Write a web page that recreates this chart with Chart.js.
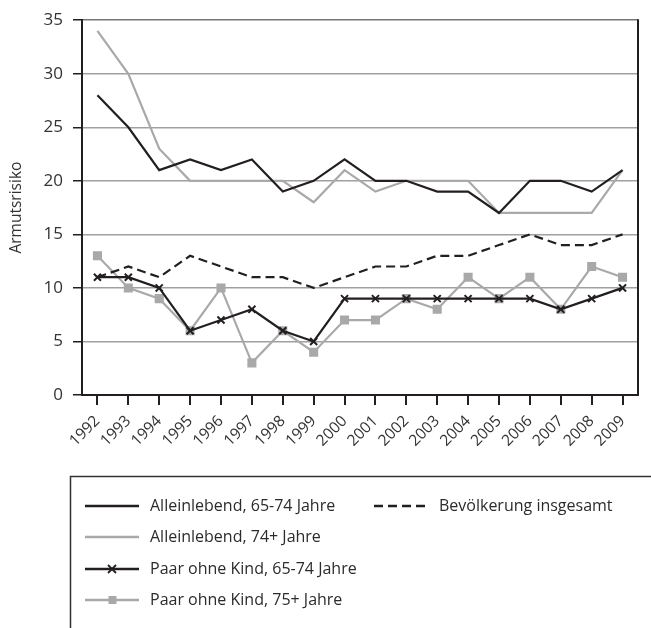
<!DOCTYPE html>
<html>
<head>
<meta charset="utf-8">
<script src="https://cdn.jsdelivr.net/npm/chart.js@4.4.0/dist/chart.umd.min.js"></script>
<style>
  html, body { margin: 0; padding: 0; background: #fff; }
  #wrap { width: 651px; height: 628px; position: relative; }
</style>
</head>
<body>
<div id="wrap"><canvas id="armut"></canvas></div>
<script>
// Jahre
const years = ['1992', '1993', '1994', '1995', '1996', '1997', '1998', '1999', '2000',
    '2001', '2002', '2003', '2004', '2005', '2006', '2007', '2008', '2009'];

// Armutsrisiko (%) je Gruppe
const allein6574 = [28, 25, 21, 22, 21, 22, 19, 20, 22, 20, 20, 19, 19, 17, 20, 20, 19, 21];
const allein74plus = [34, 30, 23, 20, 20, 20, 20, 18, 21, 19, 20, 20, 20, 17, 17, 17, 17, 21];
const paar6574 = [11, 11, 10, 6, 7, 8, 6, 5, 9, 9, 9, 9, 9, 9, 9, 8, 9, 10];
const paar75plus = [13, 10, 9, 6, 10, 3, 6, 4, 7, 7, 9, 8, 11, 9, 11, 8, 12, 11];
const bevoelkerung = [11, 12, 11, 13, 12, 11, 11, 10, 11, 12, 12, 13, 13, 14, 15, 14, 14, 15];

const yTicks = { min: 0, max: 35, step: 5 };

const BLACK = '#231f20';
const GREY = '#a9a9a9';
const FONT = '"Open Sans", "DejaVu Sans", sans-serif';

const series = {
    a1: { label: 'Alleinlebend, 65-74 Jahre', data: allein6574, color: BLACK, dash: [], point: false },
    a2: { label: 'Alleinlebend, 74+ Jahre', data: allein74plus, color: GREY, dash: [], point: false },
    p1: { label: 'Paar ohne Kind, 65-74 Jahre', data: paar6574, color: BLACK, dash: [], point: 'crossRot' },
    p2: { label: 'Paar ohne Kind, 75+ Jahre', data: paar75plus, color: GREY, dash: [], point: 'rect' },
    bv: { label: 'Bevölkerung insgesamt', data: bevoelkerung, color: BLACK, dash: [9, 5], point: false }
};

const makeDataset = (s) => ({
    label: s.label,
    data: s.data,
    borderColor: s.color,
    backgroundColor: s.color,
    borderWidth: 2.2,
    borderDash: s.dash,
    tension: 0,
    fill: false,
    pointStyle: s.point || 'circle',
    pointRadius: s.point ? 5 : 0,
    pointBorderWidth: 2,
    pointBorderColor: s.color,
    pointBackgroundColor: s.color
});

// custom legend box below the chart + right frame line
const frameAndLegend = {
    id: 'frameAndLegend',
    afterDraw(chart) {
        const ctx = chart.ctx;
        const area = chart.chartArea;
        ctx.save();

        // right border of plot
        ctx.strokeStyle = BLACK;
        ctx.lineWidth = 2;
        ctx.beginPath();
        ctx.moveTo(area.right, area.top - 1);
        ctx.lineTo(area.right, area.bottom);
        ctx.stroke();

        // legend frame (runs off the right and bottom edges)
        ctx.strokeStyle = '#333';
        ctx.lineWidth = 1.5;
        ctx.strokeRect(70.5, 476.5, 700, 300);

        const rows = [
            { s: series.a1, x: 85, y: 506 },
            { s: series.a2, x: 85, y: 537 },
            { s: series.p1, x: 85, y: 569 },
            { s: series.p2, x: 85, y: 600 },
            { s: series.bv, x: 374, y: 506 }
        ];
        ctx.font = '16px ' + FONT;
        ctx.textBaseline = 'middle';
        rows.forEach(({ s, x, y }) => {
            ctx.strokeStyle = s.color;
            ctx.lineWidth = 2.5;
            ctx.setLineDash(s.dash);
            ctx.beginPath();
            ctx.moveTo(x, y);
            ctx.lineTo(x + 54, y);
            ctx.stroke();
            ctx.setLineDash([]);
            if (s.point) {
                ctx.fillStyle = s.color;
                if (s.point === 'rect') {
                    ctx.fillRect(x + 23.5, y - 4, 8, 8);
                } else {
                    ctx.lineWidth = 1.8;
                    ctx.beginPath();
                    ctx.moveTo(x + 23, y - 4); ctx.lineTo(x + 31, y + 4);
                    ctx.moveTo(x + 31, y - 4); ctx.lineTo(x + 23, y + 4);
                    ctx.stroke();
                }
            }
            ctx.fillStyle = '#2b2b2b';
            ctx.fillText(s.label, x + 65, y);
        });
        ctx.restore();
    }
};

const chart = new Chart(document.getElementById('armut'), {
    type: 'line',
    data: {
        labels: years,
        datasets: [
            makeDataset(series.a1),
            makeDataset(series.p1),
            makeDataset(series.bv),
            makeDataset(series.a2),
            makeDataset(series.p2)
        ]
    },
    options: {
        responsive: true,
        maintainAspectRatio: false,
        animation: false,
        layout: { padding: { top: 17, right: 13, left: 0, bottom: 0 } },
        plugins: {
            legend: { display: false },
            tooltip: { enabled: false }
        },
        scales: {
            x: {
                offset: true,
                afterFit: (scale) => { scale.height = 233; },
                grid: {
                    offset: false,
                    drawOnChartArea: false,
                    tickLength: 10,
                    tickColor: BLACK,
                    lineWidth: 2
                },
                border: { color: BLACK, width: 2 },
                ticks: {
                    color: '#333',
                    font: { family: FONT, size: 15.5 },
                    minRotation: 45,
                    maxRotation: 45,
                    padding: 7,
                    autoSkip: false
                }
            },
            y: {
                min: yTicks.min,
                max: yTicks.max,
                afterFit: (scale) => { scale.width = 82; },
                grid: {
                    color: (c) => c.tick.value === yTicks.max ? '#777' : '#a0a0a0',
                    lineWidth: 1.5,
                    tickLength: 9,
                    tickColor: BLACK
                },
                border: { color: BLACK, width: 2 },
                ticks: {
                    stepSize: yTicks.step,
                    color: '#333',
                    padding: 10,
                    font: { family: FONT, size: 17 }
                },
                title: {
                    display: true,
                    text: 'Armutsrisiko',
                    color: '#333',
                    padding: { top: 7, bottom: 0 },
                    font: { family: FONT, size: 15.5 }
                }
            }
        }
    },
    plugins: [frameAndLegend]
});
</script>
</body>
</html>
